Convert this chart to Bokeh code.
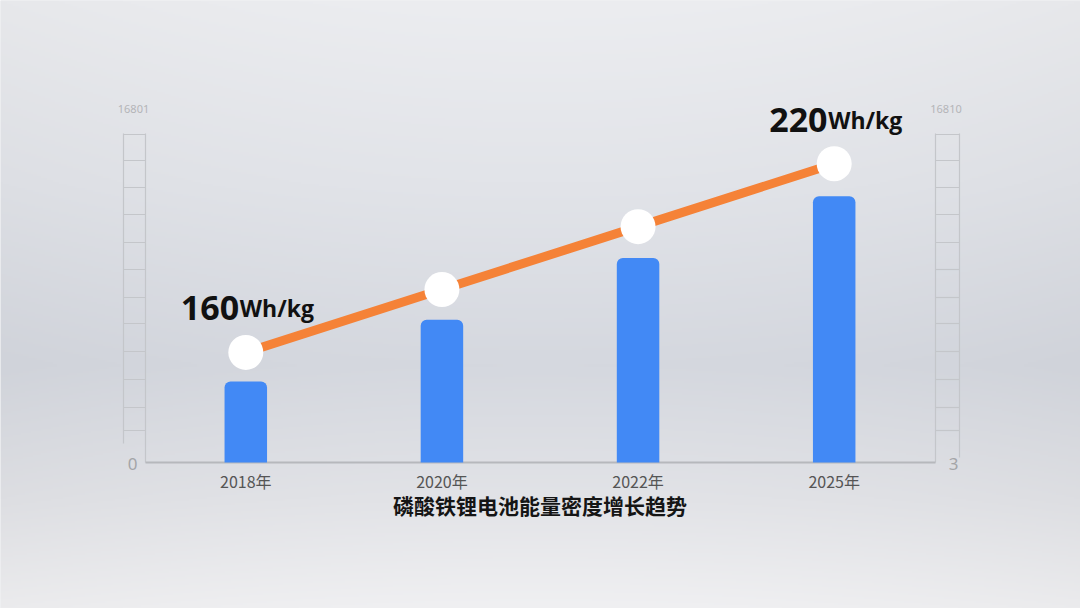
import numpy as np
from bokeh.plotting import figure
from bokeh.models import Range1d
from bokeh.core.properties import value
from bokeh.embed import file_html
from bokeh.resources import INLINE

# ---------------- data ----------------
years = ["2018年", "2020年", "2022年", "2025年"]
bar_values = [160, 180, 200, 220]
line_values = [160, 180, 200, 220]
labeled_idx = [0, 3]
unit_text = "Wh/kg"
title_text = "磷酸铁锂电池能量密度增长趋势"
left_top_label = "16801"
right_top_label = "16810"
left_zero_label = "0"
right_zero_label = "3"

# ---------------- layout constants ----------------
W, H = 1080, 608
OFF = 0                       # page offset of the canvas
BASE_REF = 462                # baseline (reference pixel row)
BASE_PX = H - (BASE_REF - OFF)
TOP_PX = H - BASE_PX
X0_PX = 245.3 - OFF           # first category centre from canvas left
STEP_PX = 196.13
BAR_MIN, BAR_PPU = 133.8, 3.088
LINE_MIN, LINE_PPU = 125.0, 3.145

x_range = Range1d(-X0_PX / STEP_PX, (W - X0_PX) / STEP_PX)
y_range = Range1d(BAR_MIN - BASE_PX / BAR_PPU, BAR_MIN + TOP_PX / BAR_PPU)
line_range = Range1d(LINE_MIN - BASE_PX / LINE_PPU, LINE_MIN + TOP_PX / LINE_PPU)


def ix(ref_x):
    return (ref_x - OFF - X0_PX) / STEP_PX


def bv(ref_y):
    return BAR_MIN + (BASE_REF - ref_y) / BAR_PPU


p = figure(width=W, height=H, x_range=x_range, y_range=y_range,
           output_backend="svg", toolbar_location=None, min_border=0,
           x_axis_location=None, y_axis_location=None)
p.extra_y_ranges = {"line": line_range}
p.grid.visible = False
p.outline_line_color = None
p.background_fill_color = "#e2e4e8"
p.border_fill_color = "#e2e4e8"

# ---------------- background gradient ----------------
ny, nx = 304, 540
t = 1 - np.linspace(0, 1, ny)[:, None]      # 0 top, 1 bottom
xx = np.linspace(-1, 1, nx)[None, :]
stops = [0.0, 0.3, 0.6, 0.82, 1.0]
rs = [236, 226, 213, 226, 240]
gs = [237, 228, 216, 227, 240]
bs = [240, 233, 223, 231, 242]
shade = 5 * xx ** 2
r = np.interp(t, stops, rs) - shade
g = np.interp(t, stops, gs) - shade
b = np.interp(t, stops, bs) - shade
img = np.empty((ny, nx), dtype=np.uint32)
view = img.view(dtype=np.uint8).reshape((ny, nx, 4))
view[..., 0] = np.clip(r, 0, 255).astype(np.uint8)
view[..., 1] = np.clip(g, 0, 255).astype(np.uint8)
view[..., 2] = np.clip(b, 0, 255).astype(np.uint8)
view[..., 3] = 255
p.image_rgba(image=[img], x=x_range.start, y=y_range.start,
             dw=x_range.end - x_range.start, dh=y_range.end - y_range.start,
             level="image")

# ---------------- ladder axes ----------------
rail_color = "#c4c6ca"
L_OUT, L_IN, R_IN, R_OUT = ix(123), ix(145), ix(935), ix(959)
RAIL_TOP = bv(133)
rung_rows = [134, 160, 187, 214, 242, 269, 297, 323, 351, 379, 407, 430]
rung_vals = [bv(v) for v in rung_rows]
p.segment(x0=[L_OUT, L_IN, R_IN, R_OUT], y0=[bv(443), BAR_MIN, BAR_MIN, bv(457)],
          x1=[L_OUT, L_IN, R_IN, R_OUT], y1=[RAIL_TOP] * 4,
          line_color=rail_color, line_width=1.2)
p.segment(x0=[L_OUT] * len(rung_vals) + [R_IN] * len(rung_vals),
          y0=rung_vals * 2,
          x1=[L_IN] * len(rung_vals) + [R_OUT] * len(rung_vals),
          y1=rung_vals * 2, line_color=rail_color, line_width=1.2)
# baseline
p.segment(x0=[L_IN], y0=[BAR_MIN], x1=[R_IN], y1=[BAR_MIN],
          line_color="#b6b8bc", line_width=2)

idx = list(range(len(years)))

# ---------------- bars ----------------
p.vbar(x=idx, top=bar_values, bottom=BAR_MIN, width=42.5 / STEP_PX,
       fill_color="#4289f5", line_color=None, border_radius=(6, 6, 0, 0))

# ---------------- line + markers ----------------
p.line(x=idx, y=line_values, y_range_name="line", line_width=9,
       line_color="#f58237")
p.scatter(x=idx, y=line_values, y_range_name="line", size=35,
          fill_color="#ffffff", line_color=None)

# value labels
lx = [idx[i] for i in labeled_idx]
ly = [line_values[i] for i in labeled_idx]
p.text(x=lx, y=ly, y_range_name="line", text=[str(line_values[i]) for i in labeled_idx],
       x_offset=-65, y_offset=-44, text_font=value("Open Sans"),
       text_font_style="bold", text_font_size="34px", text_color="#111111",
       text_align="left", text_baseline="alphabetic")
p.text(x=lx, y=ly, y_range_name="line", text=[unit_text] * len(lx),
       x_offset=-6, y_offset=-44, text_font=value("Open Sans"),
       text_font_style="bold", text_font_size="23px", text_color="#111111",
       text_align="left", text_baseline="alphabetic")

# ---------------- category labels ----------------
p.text(x=idx, y=[BAR_MIN] * len(idx), text=years, y_offset=18.5,
       text_font=value("Noto Sans CJK SC"), text_font_size="16px",
       text_color="#555555", text_align="center", text_baseline="middle")

# title
p.text(x=[(idx[0] + idx[-1]) / 2], y=[BAR_MIN], text=[title_text], y_offset=42,
       text_font=value("Noto Sans CJK SC"), text_font_style="bold",
       text_font_size="21px", text_color="#151515",
       text_align="center", text_baseline="middle")

# axis end labels
p.text(x=[ix(132), ix(953)], y=[BAR_MIN, BAR_MIN],
       text=[left_zero_label, right_zero_label], y_offset=1,
       text_font=value("Noto Sans"), text_font_size="17px",
       text_color="#a4a5a8", text_align="center", text_baseline="middle")
p.text(x=[ix(133), ix(945.5)], y=[bv(108.5)] * 2,
       text=[left_top_label, right_top_label],
       text_font=value("Noto Sans"), text_font_size="11px",
       text_color="#b4b5b8", text_align="center", text_baseline="middle")

open("out.html", "w").write(file_html(p, INLINE))
